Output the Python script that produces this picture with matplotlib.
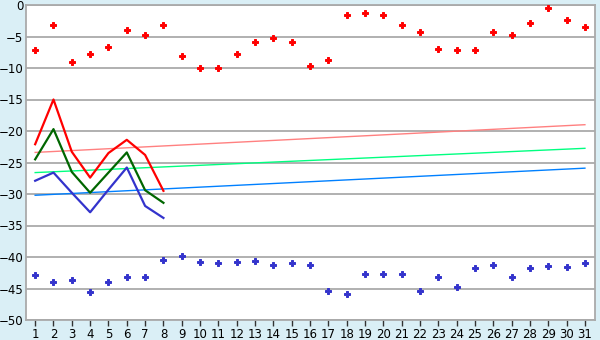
import matplotlib
matplotlib.use("Agg")
import matplotlib.pyplot as plt
import numpy as np

# data
days = list(range(1, 32))
red_points = [-7.2, -3.2, -9.1, -7.7, -6.7, -3.9, -4.8, -3.1, -8.1, -10.0,
              -10.0, -7.8, -5.8, -5.3, -5.9, -9.7, -8.8, -1.6, -1.3, -1.6,
              -3.1, -4.3, -7.0, -7.2, -7.2, -4.3, -4.8, -2.9, -0.4, -2.4, -3.5]
blue_points = [-42.9, -43.9, -43.7, -45.6, -44.0, -43.2, -43.1, -40.5, -39.9, -40.8,
               -41.0, -40.8, -40.7, -41.3, -41.0, -41.2, -45.4, -45.9, -42.7, -42.7,
               -42.7, -45.4, -43.1, -44.8, -41.8, -41.2, -43.1, -41.8, -41.5, -41.6, -41.0]

line_days = list(range(1, 9))
red_line = [-22.1, -15.0, -23.3, -27.4, -23.5, -21.4, -23.8, -29.5]
green_line = [-24.5, -19.7, -26.5, -29.8, -26.6, -23.4, -29.4, -31.4]
blue_line = [-27.9, -26.6, -29.8, -32.9, -29.3, -25.8, -31.9, -33.8]

trend_days = [1, 31]
trend_red = [-23.4, -19.0]
trend_green = [-26.6, -22.75]
trend_blue = [-30.2, -25.9]

y_ticks = list(range(-50, 1, 5))

bg = '#daeff6'
grid_col = '#aaaaaa'

fig = plt.figure(figsize=(6, 3.4), dpi=100, facecolor=bg)
ax = fig.add_axes([26 / 600, 1 - 320 / 340, (595 - 26) / 600, (320 - 5) / 340])
ax.set_facecolor('white')

for y in y_ticks:
    ax.axhline(y, color=grid_col, linewidth=1.3, zorder=1)

# trend lines
ax.plot(trend_days, trend_red, color='#ff8080', linewidth=1.0, zorder=2)
ax.plot(trend_days, trend_green, color='#00ff80', linewidth=1.0, zorder=2)
ax.plot(trend_days, trend_blue, color='#0080ff', linewidth=1.0, zorder=2)

# daily lines
ax.plot(line_days, red_line, color='#ff0000', linewidth=1.6, zorder=3)
ax.plot(line_days, green_line, color='#006600', linewidth=1.6, zorder=3)
ax.plot(line_days, blue_line, color='#3333cc', linewidth=1.6, zorder=3)

# scatter points
ax.plot(days, red_points, linestyle='none', marker='P', markersize=4.2,
        color='#ff0000', markeredgewidth=0.7, zorder=4)
ax.plot(days, blue_points, linestyle='none', marker='P', markersize=4.2,
        color='#3333cc', markeredgewidth=0.7, zorder=4)

ax.set_xlim(0.5, 31.55)
ax.set_ylim(-50, 0)
ax.set_xticks(days)
ax.set_yticks(y_ticks)
ax.set_yticklabels([str(v).replace('-', '\u2212') for v in y_ticks])
ax.tick_params(axis='x', direction='out', length=4, width=1, color='#333333',
               labelsize=8.5, pad=2)
ax.tick_params(axis='y', length=0, labelsize=8.5, pad=2)

for s in ax.spines.values():
    s.set_color(grid_col)
    s.set_linewidth(1.3)

fig.savefig('out.png', dpi=100, facecolor=bg)
